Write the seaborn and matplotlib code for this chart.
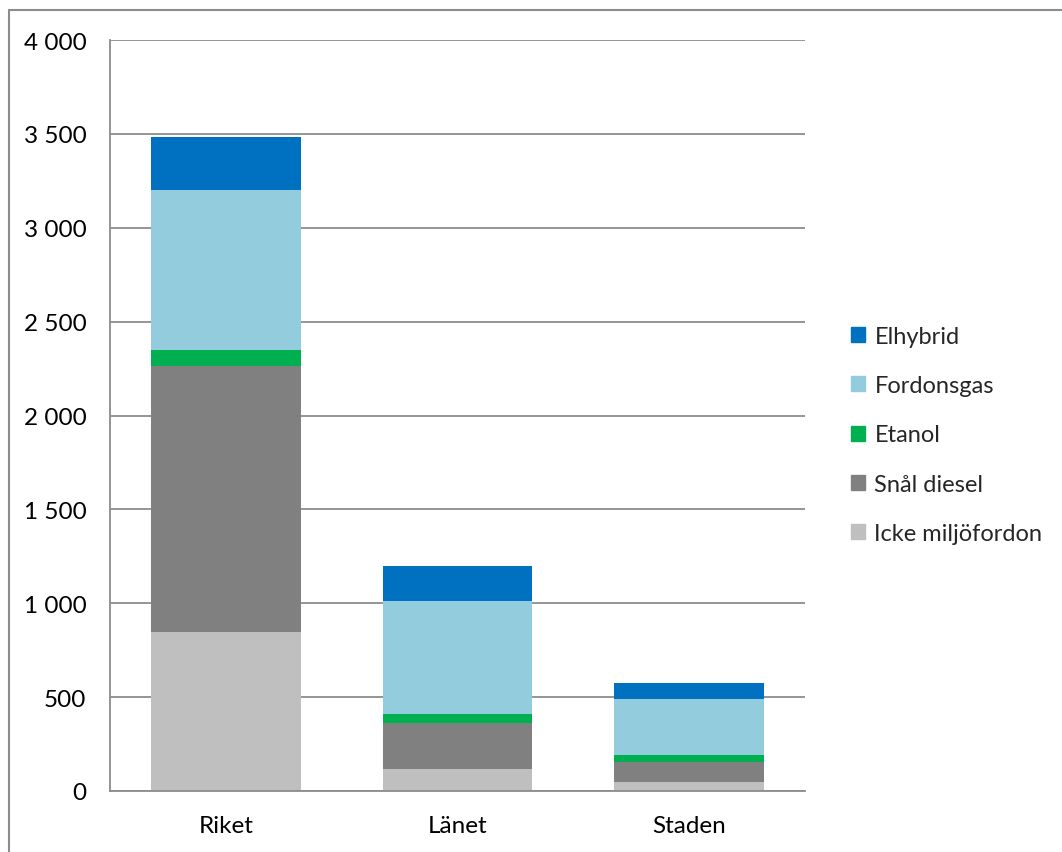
import matplotlib
matplotlib.use("Agg")
import matplotlib.pyplot as plt
import matplotlib.patches as mpatches
import seaborn as sns
import pandas as pd
import numpy as np

categories = ["Riket", "Länet", "Staden"]
series_names = ["Icke miljöfordon", "Snål diesel", "Etanol", "Fordonsgas", "Elhybrid"]
icke = [847, 119, 49]
snal_diesel = [1414, 244, 105]
etanol = [88, 48, 39]
fordonsgas = [851, 600, 298]
elhybrid = [282, 189, 83]
colors = ["#BFBFBF", "#808080", "#00B050", "#93CDDD", "#0070C0"]
yticks = [0, 500, 1000, 1500, 2000, 2500, 3000, 3500, 4000]
ytick_labels = ["0", "500", "1 000", "1 500", "2 000", "2 500", "3 000", "3 500", "4 000"]

sns.set_theme(style="white")
plt.rcParams["font.family"] = ["Lato", "DejaVu Sans"]

fig = plt.figure(figsize=(10.62, 8.53), dpi=100)
ax = fig.add_axes([110/1062, 1 - 792/853, (805-110)/1062, (792-41)/853])

# gridlines
for t in yticks:
    ax.axhline(t, color="#8C8C8C", lw=1.3, zorder=0)

values = [icke, snal_diesel, etanol, fordonsgas, elhybrid]
bottom = np.zeros(len(categories))
handles = []
for name, vals, col in zip(series_names, values, colors):
    df = pd.DataFrame({"cat": categories, "val": vals})
    sns.barplot(data=df, x="cat", y="val", bottom=bottom, color=col, width=0.647,
                ax=ax, linewidth=0, saturation=1, zorder=2, order=categories)
    bottom = bottom + np.array(vals)
    handles.append(mpatches.Patch(color=col, label=name))

ax.set_xlim(-0.5, 2.5)
ax.set_ylim(0, 4000)
ax.set_yticks(yticks)
ax.set_yticklabels(ytick_labels)
ax.set_xlabel("")
ax.set_ylabel("")
ax.tick_params(axis="y", length=0, pad=17, labelsize=17.5, colors="#000000")
ax.tick_params(axis="x", length=0, pad=17, labelsize=17.5, colors="#000000")
for s in ["top", "right"]:
    ax.spines[s].set_visible(False)
for s in ["left", "bottom"]:
    ax.spines[s].set_color("#8C8C8C")
    ax.spines[s].set_linewidth(1.3)

leg = fig.legend(handles=handles[::-1], loc="center left",
                 bbox_to_anchor=(839/1062, 1 - 436/853), frameon=False,
                 fontsize=17, handlelength=0.6, handleheight=0.6,
                 handletextpad=0.4, labelspacing=1.2, borderpad=0)

# outer border
fig.patches.append(mpatches.Rectangle((9/1062, -0.1), 1.2, 1 - 11/853 + 0.1,
                                      transform=fig.transFigure, fill=False,
                                      edgecolor="#8C8C8C", lw=1.5))

fig.savefig("out.png", dpi=100)
